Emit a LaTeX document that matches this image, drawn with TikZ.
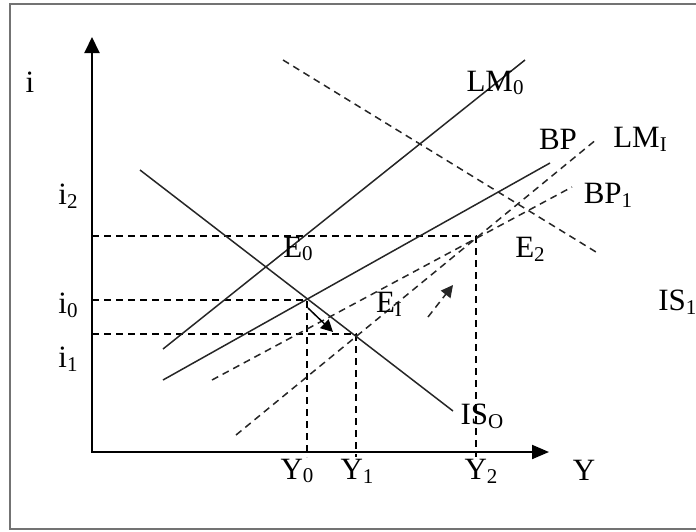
\documentclass[tikz,border=0pt]{standalone}
\usepackage{fontspec}
\setmainfont{Liberation Serif}
\usetikzlibrary{arrows.meta}
\newcommand{\sub}[1]{\raisebox{-0.12em}{\fontsize{10.5}{11}\selectfont #1}}

\begin{document}
\begin{tikzpicture}[x=0.5pt,y=-0.5pt,
  curve/.style={line width=0.75pt,color=black!85},
  shifted/.style={line width=0.75pt,color=black!85,dash pattern=on 3.5pt off 2.5pt},
  guide/.style={line width=0.65pt,dash pattern=on 3.5pt off 2.5pt},
  lbl/.style={inner sep=0pt,font=\fontsize{15.5}{18}\selectfont}]
\useasboundingbox (0,0) rectangle (696,531);
% frame
\draw[line width=1.1pt,color=black!55] (710,4) -- (10,4) -- (10,529) -- (710,529);
% axes
\coordinate (O) at (92,452);
\coordinate (itop) at (92,37);
\coordinate (Yend) at (549,452);
\coordinate (Ylow) at (92,457);
\draw[{Triangle[length=8pt,width=7.5pt]}-{Triangle[length=8.5pt,width=7pt]},line width=1pt] (itop) -- (O) -- (Yend);
% equilibria
\coordinate (E0pt) at (307,300);
\coordinate (E1pt) at (356,334);
\coordinate (E2pt) at (476,236);
\draw[guide] (O |- E2pt) -- (E2pt) -- (E2pt |- Ylow);
\draw[guide] (O |- E0pt) -- (E0pt) -- (E0pt |- Ylow);
\draw[guide] (O |- E1pt) -- (E1pt) -- (E1pt |- Ylow);
% curves
\draw[curve] (140,170) -- (453,411);
\draw[curve] (163,349) -- (525,60);
\draw[curve] (163,380) -- (550,163);
\draw[shifted] (236,435) -- (597,139);
\draw[shifted] (212,380) -- (572,187);
\draw[shifted] (283,60) -- (596,252);
% shifts
\draw[-{Triangle[length=6pt,width=6pt]},line width=0.75pt] (308,308) -- (333,332);
\draw[shifted,-{Triangle[length=6pt,width=6pt]}] (428,317) -- (453,285);
% labels
\node[lbl] (i) at (30,82) {i};
\node[lbl] (i2) at (68,196) {i\sub{2}};
\node[lbl] (i0) at (68,305) {i\sub{0}};
\node[lbl] (i1) at (68,359) {i\sub{1}};
\node[lbl] (Y0) at (297,471) {Y\sub{0}};
\node[lbl] (Y1) at (357,471) {Y\sub{1}};
\node[lbl] (Y2) at (481,471) {Y\sub{2}};
\node[lbl] (Y) at (584,470) {Y};
\node[lbl] (LM0) at (495,83) {LM\sub{0}};
\node[lbl] (BP) at (558,139) {BP};
\node[lbl] (LM1) at (640,139) {LM\sub{I}};
\node[lbl] (BP1) at (608,195) {BP\sub{1}};
\node[lbl,anchor=west] (IS1) at (658,302) {IS\sub{1}};
\node[lbl] (IS0) at (482,416) {IS\sub{O}};
\node[lbl] (E0) at (298,249) {E\sub{0}};
\node[lbl] (E1) at (389,304) {E\sub{I}};
\node[lbl] (E2) at (530,249) {E\sub{2}};
\end{tikzpicture}
\end{document}
